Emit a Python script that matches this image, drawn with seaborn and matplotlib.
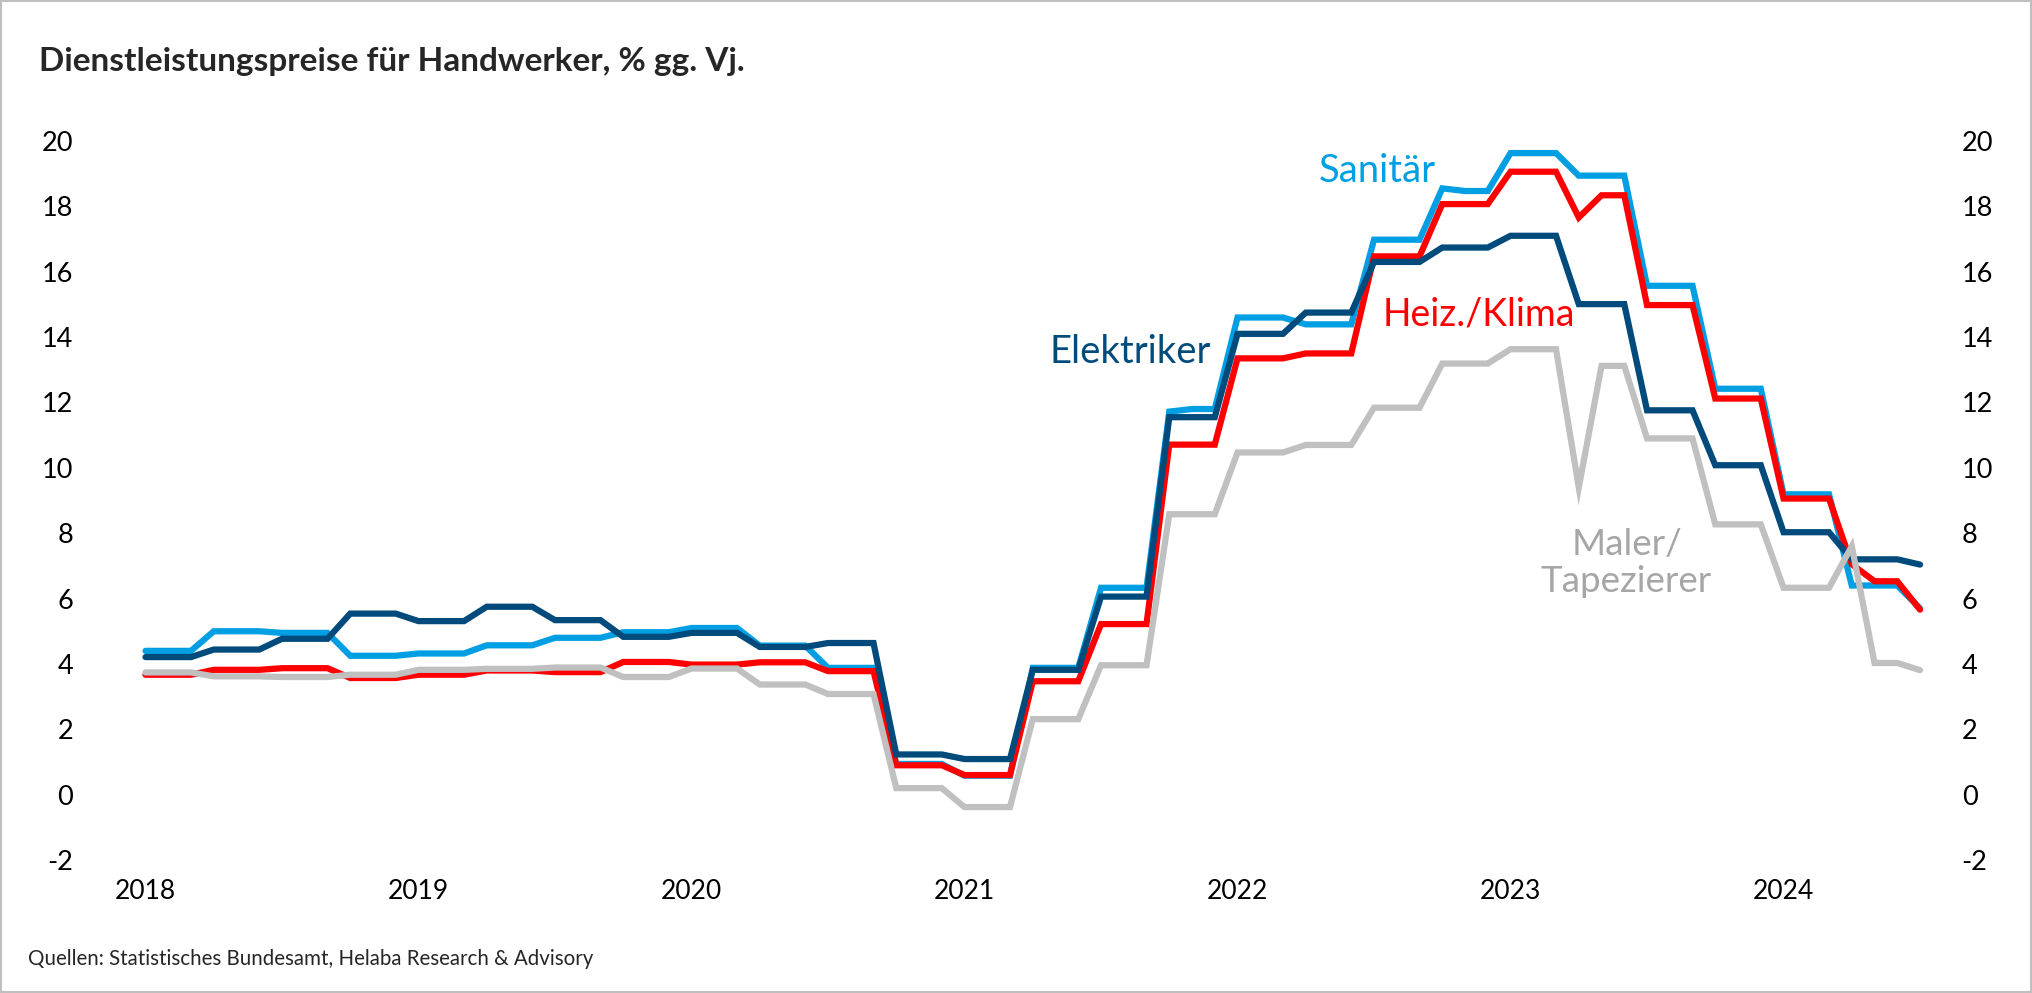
import numpy as np
import pandas as pd
import matplotlib
matplotlib.use('Agg')
import matplotlib.pyplot as plt
import seaborn as sns
from matplotlib.patches import Rectangle

# Monthly values, Jan 2018 .. Jul 2024 (one row per year, quarters grouped)
sanitaer = [
    4.4, 4.4, 4.4,   5.0, 5.0, 5.0,   4.95, 4.95, 4.95,   4.25, 4.25, 4.25,
    4.32, 4.32, 4.32,   4.57, 4.57, 4.57,   4.8, 4.8, 4.8,   4.97, 4.97, 4.97,
    5.1, 5.1, 5.1,   4.56, 4.56, 4.56,   3.88, 3.88, 3.88,   0.94, 0.94, 0.94,
    0.58, 0.58, 0.58,   3.88, 3.88, 3.88,   6.33, 6.33, 6.33,   11.72, 11.8, 11.8,
    14.6, 14.6, 14.6,   14.39, 14.39, 14.39,   16.98, 16.98, 16.98,   18.55, 18.47, 18.47,
    19.63, 19.63, 19.63,   18.94, 18.94, 18.94,   15.57, 15.57, 15.57,   12.42, 12.42, 12.42,
    9.19, 9.19, 9.19,   6.4, 6.4, 6.4,
    5.7,
]
heizung = [
    3.67, 3.67, 3.67,   3.82, 3.82, 3.82,   3.87, 3.87, 3.87,   3.57, 3.57, 3.57,
    3.67, 3.67, 3.67,   3.8, 3.8, 3.8,   3.75, 3.75, 3.75,   4.06, 4.06, 4.06,
    3.98, 3.98, 3.98,   4.05, 4.05, 4.05,   3.78, 3.78, 3.78,   0.9, 0.9, 0.9,
    0.6, 0.6, 0.6,   3.47, 3.47, 3.47,   5.22, 5.22, 5.22,   10.71, 10.71, 10.71,
    13.35, 13.35, 13.35,   13.5, 13.5, 13.5,   16.47, 16.47, 16.47,   18.07, 18.07, 18.07,
    19.06, 19.06, 19.06,   17.66, 18.34, 18.34,   14.98, 14.98, 14.98,   12.12, 12.12, 12.12,
    9.06, 9.06, 9.06,   7.05, 6.53, 6.53,
    5.66,
]
elektriker = [
    4.21, 4.21, 4.21,   4.44, 4.44, 4.44,   4.77, 4.77, 4.77,   5.54, 5.54, 5.54,
    5.31, 5.31, 5.31,   5.75, 5.75, 5.75,   5.34, 5.34, 5.34,   4.83, 4.83, 4.83,
    4.95, 4.95, 4.95,   4.52, 4.52, 4.52,   4.64, 4.64, 4.64,   1.23, 1.23, 1.23,
    1.09, 1.09, 1.09,   3.82, 3.82, 3.82,   6.06, 6.06, 6.06,   11.55, 11.55, 11.55,
    14.1, 14.1, 14.1,   14.75, 14.75, 14.75,   16.3, 16.3, 16.3,   16.74, 16.74, 16.74,
    17.1, 17.1, 17.1,   15.01, 15.01, 15.01,   11.76, 11.76, 11.76,   10.08, 10.08, 10.08,
    8.03, 8.03, 8.03,   7.2, 7.2, 7.2,
    7.04,
]
maler = [
    3.74, 3.74, 3.74,   3.62, 3.62, 3.62,   3.6, 3.6, 3.6,   3.67, 3.67, 3.67,
    3.82, 3.82, 3.82,   3.85, 3.85, 3.85,   3.89, 3.89, 3.89,   3.6, 3.6, 3.6,
    3.86, 3.86, 3.86,   3.37, 3.37, 3.37,   3.08, 3.08, 3.08,   0.2, 0.2, 0.2,
    -0.38, -0.38, -0.38,   2.31, 2.31, 2.31,   3.96, 3.96, 3.96,   8.58, 8.58, 8.58,
    10.47, 10.47, 10.47,   10.7, 10.7, 10.7,   11.84, 11.84, 11.84,   13.19, 13.19, 13.19,
    13.63, 13.63, 13.63,   9.4, 13.12, 13.12,   10.9, 10.9, 10.9,   8.27, 8.27, 8.27,
    6.33, 6.33, 6.33,   7.6, 4.03, 4.03,
    3.81,
]

series_names = ['Sanitär', 'Heiz./Klima', 'Elektriker', 'Maler/Tapezierer']
colors = ['#009FE3', '#FF0000', '#004A7C', '#C0C0C0']
year_labels = ['2018', '2019', '2020', '2021', '2022', '2023', '2024']
y_ticks = [-2, 0, 2, 4, 6, 8, 10, 12, 14, 16, 18, 20]

months = np.arange(len(sanitaer))
df = pd.DataFrame({
    'monat': np.tile(months, 4),
    'wert': sanitaer + heizung + elektriker + maler,
    'reihe': np.repeat(series_names, len(months)),
})

sns.set_style('white')
plt.rcParams['font.family'] = ['Lato', 'DejaVu Sans']

fig = plt.figure(figsize=(20.32, 9.93), dpi=100)
ax = fig.add_axes([0.0716, 0.1339, 0.8733, 0.7241])

sns.lineplot(data=df, x='monat', y='wert', hue='reihe', hue_order=series_names,
             palette=colors, linewidth=4.5, legend=False, ax=ax)
for line in ax.lines:
    line.set_solid_capstyle('round')
    line.set_solid_joinstyle('miter')
    line.set_clip_on(False)

ax.set_xlim(0, 78)
ax.set_ylim(-2, 20)
ax.set_xlabel('')
ax.set_ylabel('')
ax.set_xticks(np.arange(len(year_labels)) * 12)
ax.set_xticklabels(year_labels)
ax.set_yticks(y_ticks)
ax.set_yticklabels([str(t) for t in y_ticks])
ax.tick_params(axis='x', length=0, pad=14, labelsize=19, colors='#000000')
ax.tick_params(axis='y', length=0, pad=52, labelsize=19.5, colors='#000000')
for lab in ax.get_yticklabels():
    lab.set_horizontalalignment('right')
sns.despine(ax=ax, left=True, bottom=True)

ax2 = ax.twinx()
ax2.set_ylim(-2, 20)
ax2.set_yticks(y_ticks)
ax2.set_yticklabels([str(t) for t in y_ticks])
ax2.tick_params(axis='y', length=0, pad=30, labelsize=19.5, colors='#000000')
sns.despine(ax=ax2, left=True, bottom=True, right=True)

# series labels
ax.text(54.15, 19.08, 'Sanitär', color=colors[0], fontsize=27.5, ha='center', va='center')
ax.text(58.6, 14.68, 'Heiz./Klima', color=colors[1], fontsize=27, ha='center', va='center')
ax.text(43.3, 13.55, 'Elektriker', color=colors[2], fontsize=27.5, ha='center', va='center')
ax.text(65.1, 7.1, 'Maler/\nTapezierer', color='#A6A6A6', fontsize=26.5,
        ha='center', va='center', linespacing=1.15)

fig.text(0.0192, 0.9376, 'Dienstleistungspreise für Handwerker, % gg. Vj.',
         fontsize=24, fontweight='bold', ha='left', va='center')
fig.text(0.0138, 0.0342, 'Quellen: Statistisches Bundesamt, Helaba Research & Advisory',
         fontsize=14.8, ha='left', va='center')

fig.patches.append(Rectangle((0.0005, 0.001), 0.999, 0.998, transform=fig.transFigure,
                             fill=False, edgecolor='#BFBFBF', linewidth=1.5))

fig.savefig('out.png', dpi=100, facecolor='white')
